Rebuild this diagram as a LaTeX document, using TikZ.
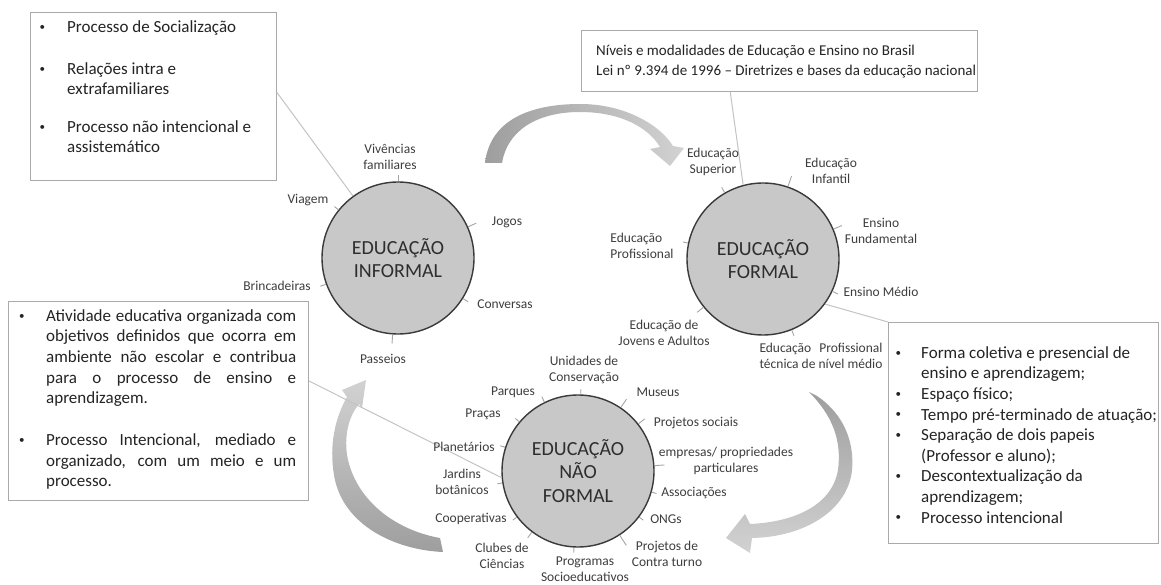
\documentclass[tikz,border=0pt]{standalone}
\usepackage{fontspec}
\setmainfont{Carlito}
\usetikzlibrary{calc}
\definecolor{circfill}{RGB}{200,200,200}
\definecolor{circline}{RGB}{58,58,58}
\definecolor{boxline}{RGB}{170,170,170}
\definecolor{conline}{RGB}{196,196,196}
\definecolor{labtxt}{RGB}{62,62,62}
\definecolor{boxtxt}{RGB}{36,36,36}
\definecolor{arrD}{RGB}{158,158,158}
\definecolor{arrL}{RGB}{210,210,210}
\definecolor{tickc}{RGB}{165,165,165}
\newcommand\mybul[1]{\llap{\raisebox{0.25ex}{\fontsize{11}{11}\selectfont •}\hspace{#1}}}
\begin{document}
\begin{tikzpicture}[x=1pt,y=-1pt,
  edu/.style={circle, draw=circline, line width=1.4pt, fill=circfill, minimum size=152pt, inner sep=0pt, align=center, font=\fontsize{20}{23.5}\selectfont, text=black!82},
  lab/.style={inner sep=0pt, align=center, font=\fontsize{13.5}{15.5}\selectfont, text=labtxt},
  tick/.style={draw=tickc, line width=0.9pt},
  conn/.style={draw=conline, line width=1pt},
  boxr/.style={draw=boxline, line width=0.9pt, fill=white, inner sep=0pt, anchor=north west},
  btext/.style={anchor=north west, inner sep=0pt, align=left, text=boxtxt},
]
\useasboundingbox (0,0) rectangle (1161,585);
\fill[white] (0,0) rectangle (1161,585);

% curved arrows
\path[left color=arrD, right color=arrL]
  (485,163) .. controls (490,120) and (530,104) .. (580,104)
  .. controls (625,104) and (660,125) .. (673,146)
  -- (684,148) -- (670,166) -- (650,149) -- (660,147)
  .. controls (648,127) and (620,112) .. (580,112)
  .. controls (535,112) and (507,132) .. (502,163) -- cycle;
\path[top color=arrD, bottom color=arrL]
  (809,392) .. controls (832,415) and (842,440) .. (838,470)
  .. controls (832,505) and (795,522) .. (750,524)
  -- (745,514) -- (726,538) -- (750,553) -- (752,538)
  .. controls (805,537) and (848,510) .. (852,470)
  .. controls (855,435) and (838,410) .. (817,396) -- cycle;
\path[bottom color=arrD, top color=arrL]
  (440,538) .. controls (395,530) and (355,500) .. (347,455)
  .. controls (344,432) and (350,415) .. (359,404)
  -- (362,408) -- (366,380) -- (342,390) -- (347,397)
  .. controls (335,418) and (329,445) .. (334,475)
  .. controls (342,525) and (395,550) .. (443,552) -- cycle;

% boxes
\node[boxr, minimum width=246pt, minimum height=168pt] (tlbox) at (30,12) {};
\node[boxr, minimum width=396pt, minimum height=61pt] (trbox) at (581,30) {};
\node[boxr, minimum width=300pt, minimum height=199pt] (blbox) at (8,301) {};
\node[boxr, minimum width=270pt, minimum height=221pt] (brbox) at (888,322) {};

% circles
\node[edu] (inf) at (398,258) {EDUCAÇÃO\\INFORMAL};
\node[edu] (form) at (763,259) {EDUCAÇÃO\\FORMAL};
\node[edu] (nf) at (578,471) {EDUCAÇÃO\\NÃO\\FORMAL};

% connectors from boxes
\draw[conn] ($(tlbox.north east)!0.476!(tlbox.south east)$) -- (inf.126);
\draw[conn] ($(trbox.south west)!0.376!(trbox.south east)$) -- (form.105);
\draw[conn] ($(blbox.north east)!0.4!(blbox.south east)$) -- (nf.185);
\draw[conn] (form.-36) -- (brbox.north west);

% box texts
\node[btext, font=\fontsize{17}{20}\selectfont] (tltext) at (67,18) {%
\mybul{22pt}\strut Processo de Socialização\\[22pt]
\mybul{22pt}\strut Relações intra e\\
\strut extrafamiliares\\[18pt]
\mybul{22pt}\strut Processo não intencional e\\
\strut assistemático};

\node[btext, font=\fontsize{15}{20}\selectfont] (trtext) at (596,41) {%
\strut Níveis e modalidades de Educação e Ensino no Brasil\\
\strut Lei nº 9.394 de 1996 – Diretrizes e bases da educação nacional};

\node[btext, font=\fontsize{17}{20.7}\selectfont] (bltext) at (46,306.5) {%
\mybul{21.5pt}\strut\makebox[250pt][s]{Atividade educativa organizada com}\\
\strut\makebox[250pt][s]{objetivos definidos que ocorra em}\\
\strut\makebox[250pt][s]{ambiente não escolar e contribua}\\
\strut\makebox[250pt][s]{para o processo de ensino e}\\
\strut aprendizagem.\\[20.7pt]
\mybul{21.5pt}\strut\makebox[250pt][s]{Processo Intencional, mediado e}\\
\strut\makebox[250pt][s]{organizado, com um meio e um}\\
\strut processo.};

\node[btext, font=\fontsize{17}{20.6}\selectfont] (brtext) at (921,343.6) {%
\mybul{20pt}\strut Forma coletiva e presencial de\\
\strut ensino e aprendizagem;\\
\mybul{20pt}\strut Espaço físico;\\
\mybul{20pt}\strut Tempo pré-terminado de atuação;\\
\mybul{20pt}\strut Separação de dois papeis\\
\strut (Professor e aluno);\\
\mybul{20pt}\strut Descontextualização da\\
\strut aprendizagem;\\
\mybul{20pt}\strut Processo intencional};

% labels: informal
\node[lab] (viv) at (390,157) {Vivências\\familiares};
\node[lab] (viag) at (308,200) {Viagem};
\node[lab] (jogos) at (507,222) {Jogos};
\node[lab] (brinc) at (277,286) {Brincadeiras};
\node[lab] (conv) at (505,304) {Conversas};
\node[lab] (pass) at (383,359) {Passeios};

% labels: formal
\node[lab] (sup) at (713,162) {Educação\\Superior};
\node[lab] (infan) at (831,171) {Educação\\Infantil};
\node[lab] (fund) at (881,231) {Ensino\\Fundamental};
\node[lab, align=left] (prof) at (642,246) {Educação\\Profissional};
\node[lab] (medio) at (881,292) {Ensino Médio};
\node[lab] (eja) at (664,333) {Educação de\\Jovens e Adultos};
\node[lab] (tec) at (821,356) {\makebox[123pt][s]{Educação Profissional}\\técnica de nível médio};

% labels: non formal
\node[lab] (uc) at (584,370) {Unidades de\\Conservação};
\node[lab] (parq) at (513,392) {Parques};
\node[lab] (mus) at (658,392) {Museus};
\node[lab] (prac) at (483,414) {Praças};
\node[lab] (psoc) at (696,423) {Projetos sociais};
\node[lab] (plan) at (464,447) {Planetários};
\node[lab] (emp) at (726,461) {empresas/ propriedades\\particulares};
\node[lab] (jard) at (462,482) {Jardins\\botânicos};
\node[lab] (assoc) at (694,493) {Associações};
\node[lab] (coop) at (471,519) {Cooperativas};
\node[lab] (ongs) at (666,519) {ONGs};
\node[lab] (club) at (502,556) {Clubes de\\Ciências};
\node[lab] (prog) at (585,569) {Programas\\Socioeducativos};
\node[lab] (pct) at (667,554) {Projetos de\\Contra turno};

% ticks
\foreach \a/\l in {90/6,141/5,24/9,200/6,-32/6,266/9}
  \draw[tick] (inf.\a) -- ++({360-\a}:\l);
\foreach \a/\l in {120/6,71/11,23/9,168/5,-25/6,219/8,292/6}
  \draw[tick] (form.\a) -- ++({360-\a}:\l);
\foreach \a/\l in {88/5,116/6,56/10,140/5,38/8,162/5,4/10,189/5,-16/5,217/5,-37/5,233/7,267/5,-57/12}
  \draw[tick] (nf.\a) -- ++({360-\a}:\l);
\end{tikzpicture}
\end{document}
